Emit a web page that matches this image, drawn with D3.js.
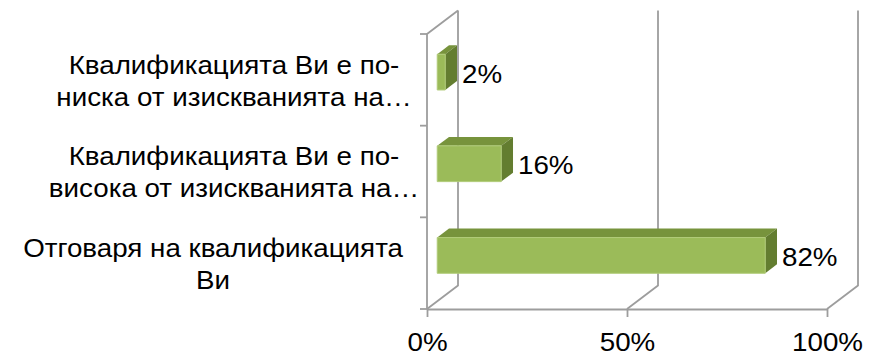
<!DOCTYPE html>
<html>
<head>
<meta charset="utf-8">
<script src="https://cdn.jsdelivr.net/npm/d3@7"></script>
<style>
  html, body { margin: 0; padding: 0; background: #fff; }
  svg { display: block; }
  text { font-family: "Liberation Sans", Arial, sans-serif; fill: #000; }
</style>
</head>
<body>
<script>
// ---- data ----
const categories = [
  "Квалификацията Ви е по-ниска от изискванията на…",
  "Квалификацията Ви е по-висока от изискванията на…",
  "Отговаря на квалификацията Ви"
];
const categoryLines = [
  ["Квалификацията Ви е по-", "ниска от изискванията на…"],
  ["Квалификацията Ви е по-", "висока от изискванията на…"],
  ["Отговаря на квалификацията", "Ви"]
];
const values = [0.02, 0.16, 0.82];
const valueLabels = ["2%", "16%", "82%"];
const tickValues = [0, 0.5, 1];
const tickLabels = ["0%", "50%", "100%"];

// ---- layout ----
const W = 869, H = 357;
const fontSize = 25;
const sx = 1.11; // horizontal stretch of text as in the reference
const gridColor = "#9d9d9d";
const depth = { dx: 31, dy: -23.5 };
const barFront = 0.33, barBack = 0.71;
const colors = { front: "#9bbb59", top: "#77933c", side: "#637d30", edge: "#b0cb78" };

const svg = d3.select("body").append("svg").attr("width", W).attr("height", H);

const x = d3.scaleLinear().domain([0, 1]).range([427, 827]);
const y = d3.scaleBand().domain(categories).range([34, 309]);
const yBottom = y.range()[1], yTop = y.range()[0];

const g = svg.append("g");

// gridlines (back wall verticals + floor diagonals)
g.selectAll("path.grid").data(tickValues).join("path")
  .attr("class", "grid")
  .attr("fill", "none").attr("stroke", gridColor).attr("stroke-width", 1.8)
  .attr("d", t => `M${x(t)},${yBottom} L${x(t) + depth.dx},${yBottom + depth.dy} L${x(t) + depth.dx},${yTop + depth.dy}`);

// left wall
g.append("path")
  .attr("fill", "none").attr("stroke", gridColor).attr("stroke-width", 1.8)
  .attr("d", `M${x(0)},${yBottom} L${x(0)},${yTop} L${x(0) + depth.dx},${yTop + depth.dy}`);

// category ticks
const catTicks = categories.map(c => y(c)).concat([yBottom]);
g.selectAll("line.ctick").data(catTicks).join("line")
  .attr("class", "ctick")
  .attr("x1", x(0) - 7).attr("x2", x(0)).attr("y1", d => d).attr("y2", d => d)
  .attr("stroke", gridColor).attr("stroke-width", 1.8);

// value axis
const xAxis = d3.axisBottom(x).tickValues(tickValues)
  .tickFormat((d, i) => tickLabels[i]).tickSize(8).tickSizeOuter(0);
const ax = svg.append("g").attr("transform", `translate(0,${yBottom})`).call(xAxis);
ax.select(".domain").attr("stroke", gridColor).attr("stroke-width", 1.8);
ax.selectAll(".tick line").attr("stroke", gridColor).attr("stroke-width", 1.8);
ax.selectAll(".tick text")
  .attr("y", 42).attr("dy", null)
  .attr("transform", `scale(${sx},1)`)
  .style("font-family", "'Liberation Sans', Arial, sans-serif")
  .style("font-size", fontSize + "px").attr("fill", "#000");

// bars
const barH = y.bandwidth() * 0.39;
const bars = svg.append("g").selectAll("g.bar").data(categories).join("g").attr("class", "bar");
bars.each(function (c, i) {
  const gb = d3.select(this);
  const yc = y(c) + y.bandwidth() / 2;
  const y0 = yc - barH / 2, y1 = yc + barH / 2;
  const P = (v, yy, f) => [x(v) + depth.dx * f, yy + depth.dy * f];
  const poly = pts => "M" + pts.map(p => p.join(",")).join("L") + "Z";
  const v = values[i];
  // top face
  gb.append("path").attr("fill", colors.top)
    .attr("d", poly([P(0, y0, barFront), P(v, y0, barFront), P(v, y0, barBack), P(0, y0, barBack)]));
  // side face
  gb.append("path").attr("fill", colors.side)
    .attr("d", poly([P(v, y0, barFront), P(v, y0, barBack), P(v, y1, barBack), P(v, y1, barFront)]));
  // front face
  gb.append("path").attr("fill", colors.front).attr("stroke", colors.edge).attr("stroke-width", 1)
    .attr("d", poly([P(0, y0, barFront), P(v, y0, barFront), P(v, y1, barFront), P(0, y1, barFront)]));
  // value label
  const lp = P(v, yc, barBack);
  gb.append("text")
    .attr("transform", `translate(${lp[0] + 5},${yc + depth.dy * barFront + 10.5}) scale(${sx},1)`)
    .style("font-size", fontSize + "px")
    .text(valueLabels[i]);
});

// category labels
const lineH = 32;
categories.forEach((c, i) => {
  const yc = y(c) + y.bandwidth() / 2;
  const lines = categoryLines[i];
  const t = svg.append("text").style("font-size", fontSize + "px").attr("text-anchor", "middle");
  const spans = lines.map((ln, k) => t.append("tspan")
    .attr("x", 0)
    .attr("y", yc + (k - (lines.length - 1) / 2) * lineH + 10)
    .text(ln));
  const w0 = spans[0].node().getComputedTextLength() * sx;
  const cx = Math.min(234, 403 - w0 / 2);
  t.attr("transform", `translate(${cx},0) scale(${sx},1)`);
});
</script>
</body>
</html>
